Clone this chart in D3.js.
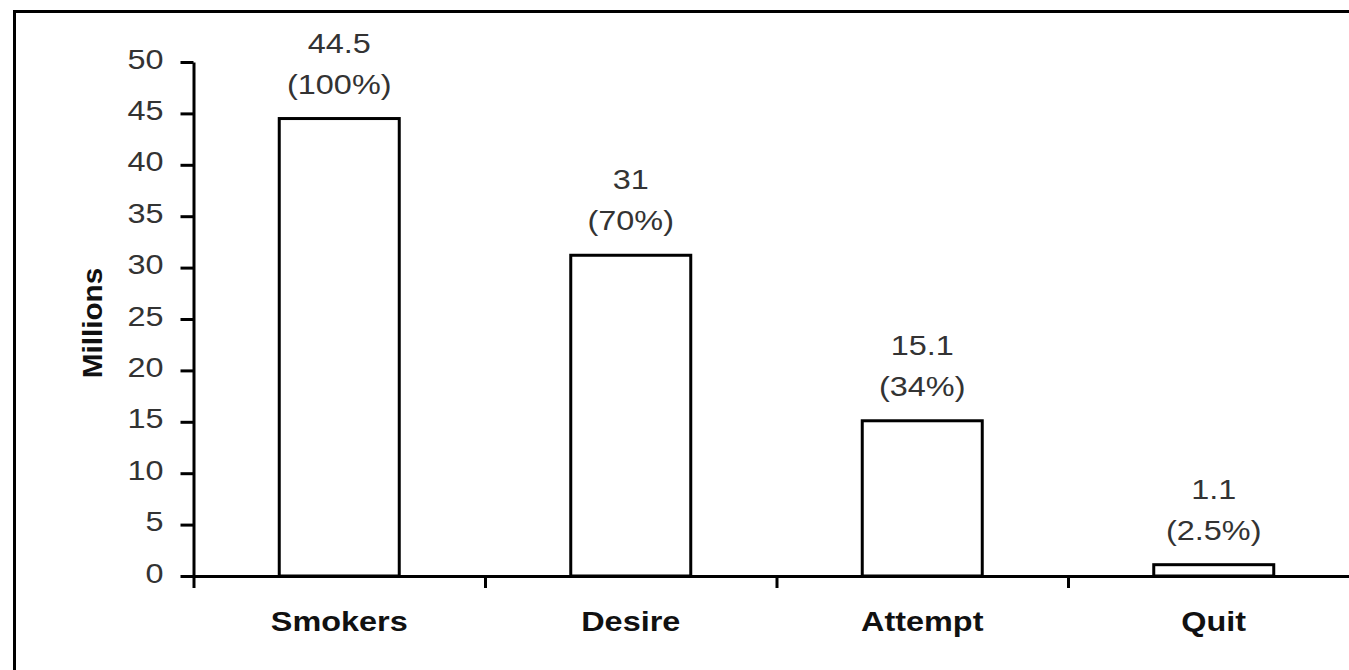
<!DOCTYPE html>
<html>
<head>
<meta charset="utf-8">
<script src="https://cdn.jsdelivr.net/npm/d3@7"></script>
<style>
  html, body { margin: 0; padding: 0; background: #fff; }
  svg { display: block; }
  text { font-family: "Liberation Sans", Arial, sans-serif; }
</style>
</head>
<body>
<script>
// ---- Data ----
const categories = ["Smokers", "Desire", "Attempt", "Quit"];
const values = [44.5, 31.2, 15.1, 1.1];
const valueLabels = ["44.5", "31", "15.1", "1.1"];
const percentLabels = ["(100%)", "(70%)", "(34%)", "(2.5%)"];
const yTicks = [0, 5, 10, 15, 20, 25, 30, 35, 40, 45, 50];
const yTitle = "Millions";

// ---- Layout ----
const W = 1349, H = 670;
const x0 = 193.5, x1 = 1359.5;
const yBottom = 576, yTop = 62;
const stretch = 1.2;

const svg = d3.select("body").append("svg").attr("width", W).attr("height", H);

// outer frame (extends beyond the viewport on right/bottom)
svg.append("rect")
  .attr("x", 14.5).attr("y", 11.5)
  .attr("width", 2000).attr("height", 2000)
  .attr("fill", "none").attr("stroke", "#000").attr("stroke-width", 3);

const y = d3.scaleLinear().domain([0, 50]).range([yBottom, yTop]);
const xEdge = d3.scaleLinear().domain([0, categories.length]).range([x0, x1]);
const pad = 1 - 120 / ((x1 - x0) / categories.length);
const x = d3.scaleBand().domain(categories).range([x0, x1])
  .paddingInner(pad).paddingOuter(pad / 2);

// bars
svg.append("g").selectAll("rect")
  .data(categories.map((c, i) => ({ c, v: values[i] })))
  .join("rect")
  .attr("x", d => x(d.c))
  .attr("y", d => y(d.v))
  .attr("width", x.bandwidth())
  .attr("height", d => y(0) - y(d.v))
  .attr("fill", "#fff").attr("stroke", "#000").attr("stroke-width", 3);

// y axis
const yAxis = svg.append("g")
  .attr("transform", `translate(${x0},0)`)
  .call(d3.axisLeft(y).tickValues(yTicks).tickSize(13).tickSizeOuter(0));
yAxis.select(".domain").attr("stroke-width", 3);
yAxis.selectAll(".tick line").attr("stroke-width", 3);
yAxis.selectAll(".tick text")
  .attr("x", 0).attr("dy", null)
  .attr("transform", `translate(-30,6) scale(${stretch},1)`)
  .attr("font-size", 27).attr("fill", "#333")
  .attr("font-family", "Liberation Sans, Arial, sans-serif")
  .attr("text-anchor", "end");

// x axis (ticks at category boundaries)
const xAxis = svg.append("g")
  .attr("transform", `translate(0,${yBottom})`)
  .call(d3.axisBottom(xEdge).tickValues(d3.range(categories.length + 1))
    .tickFormat("").tickSize(12).tickSizeOuter(0));
xAxis.select(".domain").attr("stroke-width", 3);
xAxis.selectAll(".tick line").attr("stroke-width", 3);

// category labels
svg.append("g").selectAll("text")
  .data(categories)
  .join("text")
  .attr("transform", d => `translate(${x(d) + x.bandwidth() / 2},631) scale(${stretch},1)`)
  .attr("text-anchor", "middle")
  .attr("font-size", 27).attr("font-weight", "bold").attr("fill", "#111")
  .text(d => d);

// value labels
const lab = svg.append("g").selectAll("g")
  .data(categories.map((c, i) => ({ c, v: values[i], a: valueLabels[i], b: percentLabels[i] })))
  .join("g")
  .attr("transform", d => `translate(${x(d.c) + x.bandwidth() / 2},0)`);
lab.append("text")
  .attr("transform", d => `translate(0,${y(d.v) - 66}) scale(${stretch},1)`)
  .attr("text-anchor", "middle").attr("font-size", 27).attr("fill", "#333")
  .text(d => d.a);
lab.append("text")
  .attr("transform", d => `translate(0,${y(d.v) - 25}) scale(${stretch},1)`)
  .attr("text-anchor", "middle").attr("font-size", 27).attr("fill", "#333")
  .text(d => d.b);

// y title
svg.append("text")
  .attr("transform", `translate(102,323) rotate(-90) scale(1.1,1)`)
  .attr("text-anchor", "middle")
  .attr("font-size", 27).attr("font-weight", "bold").attr("fill", "#111")
  .text(yTitle);
</script>
</body>
</html>
